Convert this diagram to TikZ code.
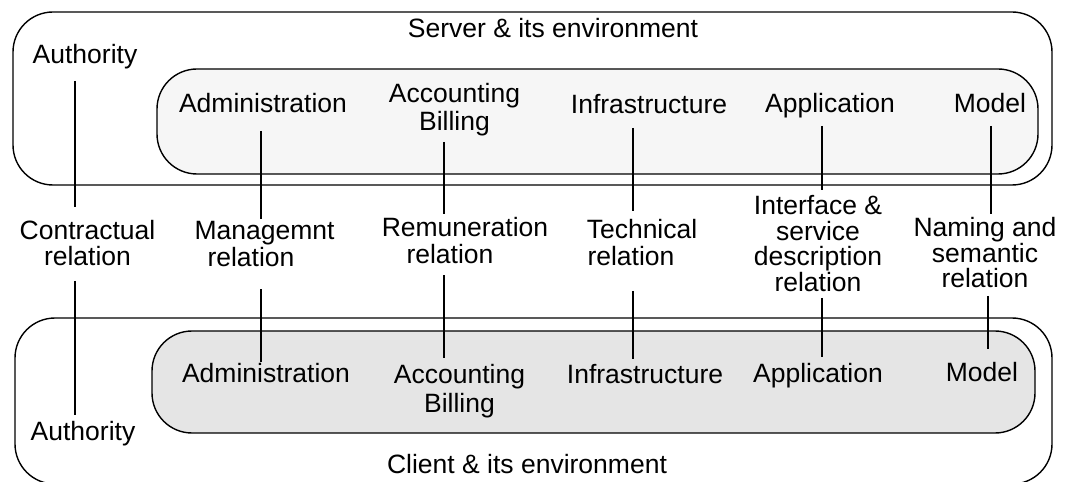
\documentclass[tikz,border=0pt]{standalone}
\usepackage{fontspec}
\setmainfont{Liberation Sans}
\usetikzlibrary{calc}
\definecolor{topfill}{gray}{0.965}
\definecolor{botfill}{gray}{0.9}
\tikzset{
  lbl/.style={inner sep=0pt, anchor=base, align=center, font=\fontsize{26.5bp}{25.5bp}\selectfont},
  box/.style={draw, line width=1.4bp, rounded corners=40bp},
  conn/.style={line width=1.4bp},
}
\begin{document}
\begin{tikzpicture}[x=1bp,y=-1bp]
\useasboundingbox (0,0) rectangle (1066,482);
% boxes
\draw[box] (13,12) rectangle (1052,185);
\draw[box, fill=topfill] (157,69) rectangle (1038,174);
\draw[box] (15,318) rectangle (1052,484);
\draw[box, fill=botfill] (152,331) rectangle (1035,433);
% titles
\node[lbl] (srv) at (553,38) {Server \& its environment};
\node[lbl] (cli) at (527,473) {Client \& its environment};
% top labels (anchor base = last line baseline)
\node[lbl] (tAut) at (85,64) {Authority};
\node[lbl] (tAdm) at (263,113) {Administration};
\node[lbl] (tAcc) at (454.5,131) {Accounting\\[2.5bp]Billing};
\node[lbl] (tInf) at (649,114) {Infrastructure};
\node[lbl] (tApp) at (830,113) {Application};
\node[lbl] (tMod) at (990,113) {Model};
% relation labels
\node[lbl] (rCon) at (87.5,266) {Contractual\\[0.5bp]relation};
\node[lbl] (rMan) at (264.5,267) {Managemnt\\[2bp]relation\kern27bp};
\node[lbl] (rRem) at (465,264) {Remuneration\\[1.5bp]relation\kern30bp};
\node[lbl] (rTec) at (642,265.5) {Technical\\[1bp]relation\kern22bp};
\node[lbl] (rInt) at (818,291.5) {Interface \&\\service\\description\\relation};
\node[lbl] (rNam) at (985,288) {Naming and\\semantic\\relation};
% bottom labels
\node[lbl] (bAut) at (83,440) {Authority};
\node[lbl] (bAdm) at (266,383) {Administration};
\node[lbl] (bAcc) at (459.5,412) {Accounting\\[3.5bp]Billing};
\node[lbl] (bInf) at (645,384) {Infrastructure};
\node[lbl] (bApp) at (818,383) {Application};
\node[lbl] (bMod) at (982,382) {Model};
% connector x positions
\coordinate (xAut) at (75,0);
\coordinate (xAdm) at (261,0);
\coordinate (xAcc) at (444,0);
\coordinate (xInf) at (633,0);
\coordinate (xApp) at (822,0);
\coordinate (xModT) at (991,0);
\coordinate (xModB) at (988,0);
% connectors
\draw[conn] ($(tAut.base -| xAut)+(0,17)$) -- ($(rCon.base -| xAut)+(0,-59)$);
\draw[conn] ($(rCon.base -| xAut)+(0,15)$) -- ($(bAut.base -| xAut)+(0,-25)$);
\draw[conn] ($(tAdm.base -| xAdm)+(0,18)$) -- ($(rMan.base -| xAdm)+(0,-48.4)$);
\draw[conn] ($(rMan.base -| xAdm)+(0,22.5)$) -- ($(bAdm.base -| xAdm)+(0,-21)$);
\draw[conn] ($(tAcc.base -| xAcc)+(0,11)$) -- ($(rRem.base -| xAcc)+(0,-49.5)$);
\draw[conn] ($(rRem.base -| xAcc)+(0,11.5)$) -- ($(bAcc.base -| xAcc)+(0,-54)$);
\draw[conn] ($(tInf.base -| xInf)+(0,14)$) -- ($(rTec.base -| xInf)+(0,-54.5)$);
\draw[conn] ($(rTec.base -| xInf)+(0,25.5)$) -- ($(bInf.base -| xInf)+(0,-25)$);
\draw[conn] ($(tApp.base -| xApp)+(0,13)$) -- ($(rInt.base -| xApp)+(0,-101.5)$);
\draw[conn] ($(rInt.base -| xApp)+(0,6.5)$) -- ($(bApp.base -| xApp)+(0,-26)$);
\draw[conn] ($(tMod.base -| xModT)+(0,13)$) -- ($(rNam.base -| xModT)+(0,-74)$);
\draw[conn] ($(rNam.base -| xModB)+(0,8)$) -- ($(bMod.base -| xModB)+(0,-33)$);
\end{tikzpicture}
\end{document}
